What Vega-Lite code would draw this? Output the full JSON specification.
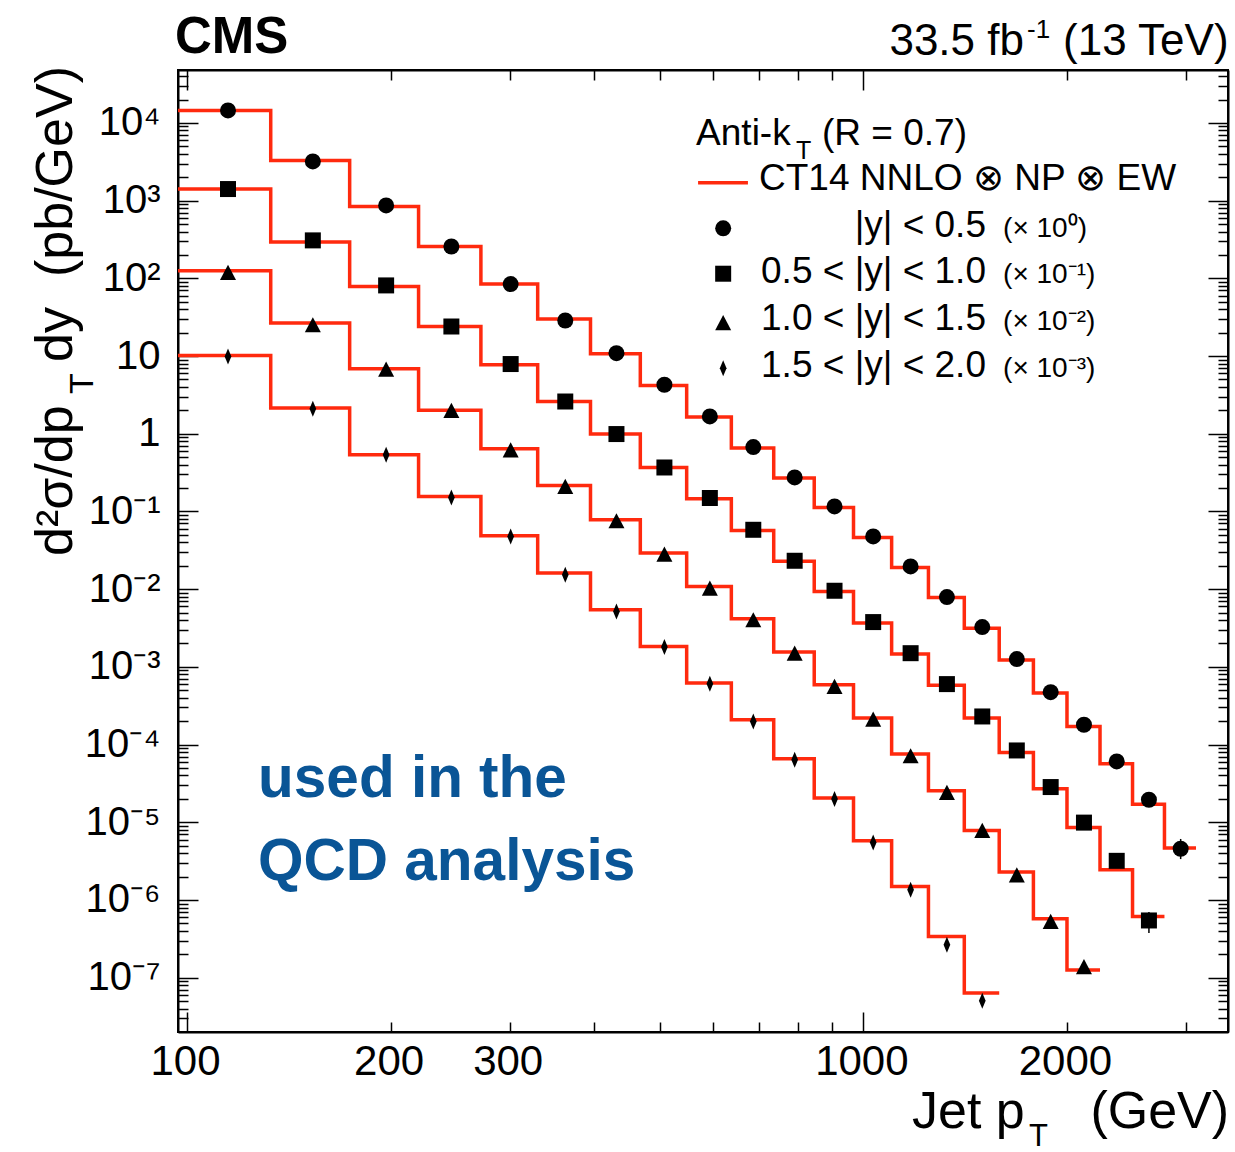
{
 "$schema": "https://vega.github.io/schema/vega-lite/v6.json",
 "width": 1050,
 "height": 962,
 "autosize": {"type": "none"},
 "padding": {"left": 178, "top": 70, "right": 7, "bottom": 120},
 "background": "white",
 "config": {"view": {"stroke": "black", "strokeWidth": 2}},
 "datasets": {
  "theory": [
   {"s":"y0","pt":97,"v":14500},{"s":"y0","pt":133,"v":3290},{"s":"y0","pt":174,"v":842},{"s":"y0","pt":220,"v":257},{"s":"y0","pt":272,"v":84.4},{"s":"y0","pt":330,"v":29.9},{"s":"y0","pt":395,"v":10.7},{"s":"y0","pt":468,"v":4.19},{"s":"y0","pt":548,"v":1.64},{"s":"y0","pt":638,"v":0.655},{"s":"y0","pt":737,"v":0.269},{"s":"y0","pt":846,"v":0.1127},{"s":"y0","pt":967,"v":0.0463},{"s":"y0","pt":1101,"v":0.019},{"s":"y0","pt":1248,"v":0.00782},{"s":"y0","pt":1410,"v":0.00315},{"s":"y0","pt":1588,"v":0.00123},{"s":"y0","pt":1784,"v":0.00046},{"s":"y0","pt":2000,"v":0.000171},{"s":"y0","pt":2238,"v":5.66e-5},{"s":"y0","pt":2500,"v":1.71e-5},{"s":"y0","pt":2787,"v":4.66e-6},{"s":"y0","pt":3103,"v":4.66e-6},
   {"s":"y1","pt":97,"v":1410},{"s":"y1","pt":133,"v":293},{"s":"y1","pt":174,"v":78.7},{"s":"y1","pt":220,"v":24},{"s":"y1","pt":272,"v":7.73},{"s":"y1","pt":330,"v":2.6},{"s":"y1","pt":395,"v":0.991},{"s":"y1","pt":468,"v":0.368},{"s":"y1","pt":548,"v":0.146},{"s":"y1","pt":638,"v":0.057},{"s":"y1","pt":737,"v":0.0228},{"s":"y1","pt":846,"v":0.00935},{"s":"y1","pt":967,"v":0.00366},{"s":"y1","pt":1101,"v":0.00146},{"s":"y1","pt":1248,"v":0.000582},{"s":"y1","pt":1410,"v":0.000219},{"s":"y1","pt":1588,"v":7.9e-5},{"s":"y1","pt":1784,"v":2.7e-5},{"s":"y1","pt":2000,"v":8.57e-6},{"s":"y1","pt":2238,"v":2.45e-6},{"s":"y1","pt":2500,"v":6.14e-7},{"s":"y1","pt":2787,"v":6.14e-7},
   {"s":"y2","pt":97,"v":125},{"s":"y2","pt":133,"v":26.6},{"s":"y2","pt":174,"v":6.87},{"s":"y2","pt":220,"v":2.0},{"s":"y2","pt":272,"v":0.641},{"s":"y2","pt":330,"v":0.216},{"s":"y2","pt":395,"v":0.0782},{"s":"y2","pt":468,"v":0.0291},{"s":"y2","pt":548,"v":0.01083},{"s":"y2","pt":638,"v":0.00416},{"s":"y2","pt":737,"v":0.00155},{"s":"y2","pt":846,"v":0.000588},{"s":"y2","pt":967,"v":0.000219},{"s":"y2","pt":1101,"v":7.55e-5},{"s":"y2","pt":1248,"v":2.54e-5},{"s":"y2","pt":1410,"v":7.85e-6},{"s":"y2","pt":1588,"v":2.29e-6},{"s":"y2","pt":1784,"v":5.73e-7},{"s":"y2","pt":2000,"v":1.26e-7},{"s":"y2","pt":2238,"v":1.26e-7},
   {"s":"y3","pt":97,"v":10.2},{"s":"y3","pt":133,"v":2.14},{"s":"y3","pt":174,"v":0.537},{"s":"y3","pt":220,"v":0.156},{"s":"y3","pt":272,"v":0.0487},{"s":"y3","pt":330,"v":0.0161},{"s":"y3","pt":395,"v":0.00543},{"s":"y3","pt":468,"v":0.00183},{"s":"y3","pt":548,"v":0.000618},{"s":"y3","pt":638,"v":0.000209},{"s":"y3","pt":737,"v":6.57e-5},{"s":"y3","pt":846,"v":2.05e-5},{"s":"y3","pt":967,"v":5.78e-6},{"s":"y3","pt":1101,"v":1.49e-6},{"s":"y3","pt":1248,"v":3.39e-7},{"s":"y3","pt":1410,"v":6.34e-8},{"s":"y3","pt":1588,"v":6.34e-8}
  ],
  "points": [
   {"s":"y0","pt":115,"v":14500},{"s":"y0","pt":153.5,"v":3200},{"s":"y0","pt":197,"v":867},{"s":"y0","pt":246,"v":257},{"s":"y0","pt":301,"v":84.4},{"s":"y0","pt":362.5,"v":28.7},{"s":"y0","pt":431.5,"v":10.9},{"s":"y0","pt":508,"v":4.27},{"s":"y0","pt":593,"v":1.67},{"s":"y0","pt":687.5,"v":0.674},{"s":"y0","pt":791.5,"v":0.274},{"s":"y0","pt":906.5,"v":0.116},{"s":"y0","pt":1034,"v":0.0477},{"s":"y0","pt":1174.5,"v":0.0196},{"s":"y0","pt":1329,"v":0.0079},{"s":"y0","pt":1499,"v":0.00325},{"s":"y0","pt":1686,"v":0.00126},{"s":"y0","pt":1892,"v":0.000473},{"s":"y0","pt":2119,"v":0.00018},{"s":"y0","pt":2369,"v":6.07e-5},{"s":"y0","pt":2643.5,"v":1.95e-5},{"s":"y0","pt":2945,"v":4.56e-6},
   {"s":"y1","pt":115,"v":1410},{"s":"y1","pt":153.5,"v":308},{"s":"y1","pt":197,"v":81.1},{"s":"y1","pt":246,"v":24},{"s":"y1","pt":301,"v":7.89},{"s":"y1","pt":362.5,"v":2.6},{"s":"y1","pt":431.5,"v":0.991},{"s":"y1","pt":508,"v":0.368},{"s":"y1","pt":593,"v":0.149},{"s":"y1","pt":687.5,"v":0.0581},{"s":"y1","pt":791.5,"v":0.0232},{"s":"y1","pt":906.5,"v":0.00954},{"s":"y1","pt":1034,"v":0.00377},{"s":"y1","pt":1174.5,"v":0.0015},{"s":"y1","pt":1329,"v":0.0006},{"s":"y1","pt":1499,"v":0.00023},{"s":"y1","pt":1686,"v":8.4e-5},{"s":"y1","pt":1892,"v":2.84e-5},{"s":"y1","pt":2119,"v":9.9e-6},{"s":"y1","pt":2369,"v":3.19e-6},{"s":"y1","pt":2643.5,"v":5.45e-7},
   {"s":"y2","pt":115,"v":119},{"s":"y2","pt":153.5,"v":25.3},{"s":"y2","pt":197,"v":6.8},{"s":"y2","pt":246,"v":2.0},{"s":"y2","pt":301,"v":0.622},{"s":"y2","pt":362.5,"v":0.21},{"s":"y2","pt":431.5,"v":0.0759},{"s":"y2","pt":508,"v":0.0283},{"s":"y2","pt":593,"v":0.01033},{"s":"y2","pt":687.5,"v":0.00404},{"s":"y2","pt":791.5,"v":0.0015},{"s":"y2","pt":906.5,"v":0.00056},{"s":"y2","pt":1034,"v":0.000213},{"s":"y2","pt":1174.5,"v":7.18e-5},{"s":"y2","pt":1329,"v":2.42e-5},{"s":"y2","pt":1499,"v":7.85e-6},{"s":"y2","pt":1686,"v":2.11e-6},{"s":"y2","pt":1892,"v":5.29e-7},{"s":"y2","pt":2119,"v":1.39e-7},
   {"s":"y3","pt":115,"v":9.88},{"s":"y3","pt":153.5,"v":2.1},{"s":"y3","pt":197,"v":0.537},{"s":"y3","pt":246,"v":0.151},{"s":"y3","pt":301,"v":0.0477},{"s":"y3","pt":362.5,"v":0.0153},{"s":"y3","pt":431.5,"v":0.00517},{"s":"y3","pt":508,"v":0.0018},{"s":"y3","pt":593,"v":0.000606},{"s":"y3","pt":687.5,"v":0.000198},{"s":"y3","pt":791.5,"v":6.37e-5},{"s":"y3","pt":906.5,"v":1.99e-5},{"s":"y3","pt":1034,"v":5.5e-6},{"s":"y3","pt":1174.5,"v":1.35e-6},{"s":"y3","pt":1329,"v":2.65e-7},{"s":"y3","pt":1499,"v":5.04e-8}
  ],
  "errors": [
   {"pt":2945,"lo":3.36e-6,"hi":6.1e-6},
   {"pt":2643.5,"lo":3.75e-7,"hi":6.98e-7}
  ],
  "legendLine": [{"pt":569.7,"pt2":675.1,"v":1701}],
  "legendMarks": [
   {"s":"y0","pt":620.5,"v":440.5},{"s":"y1","pt":620.5,"v":114.7},{"s":"y2","pt":620.5,"v":26.85},{"s":"y3","pt":620.5,"v":6.953}
  ],
  "ann": [
   {"part":"cms","pt":96.0,"v":79430,"text":"CMS"},
   {"part":"lumi","pt":3467,"v":74870,"text":"(13 TeV)"},
   {"part":"lumi","pt":1727.6,"v":74870,"text":"33.5 fb"},
   {"part":"lumisup","pt":1746,"v":123900,"text":"-1"},
   {"part":"leg","pt":565.9,"v":5197,"text":"Anti-k"},
   {"part":"leg","pt":868.8,"v":5197,"text":"(R = 0.7)"},
   {"part":"leg","pt":701.1,"v":1370,"text":"CT14 NNLO ⊗ NP ⊗ EW"},
   {"part":"legsub","pt":795,"v":3434,"text":"T"},
   {"part":"legrange","pt":1518,"v":343.4,"text":"|y| < 0.5"},
   {"part":"legrange","pt":1518,"v":86.3,"text":"0.5 < |y| < 1.0"},
   {"part":"legrange","pt":1518,"v":21.63,"text":"1.0 < |y| < 1.5"},
   {"part":"legrange","pt":1518,"v":5.42,"text":"1.5 < |y| < 2.0"},
   {"part":"legfac","pt":1609,"v":343.4,"text":"(× 10⁰)"},
   {"part":"legfac","pt":1609,"v":86.3,"text":"(× 10⁻¹)"},
   {"part":"legfac","pt":1609,"v":21.63,"text":"(× 10⁻²)"},
   {"part":"legfac","pt":1609,"v":5.42,"text":"(× 10⁻³)"},
   {"part":"qcd","pt":127.4,"v":2.112e-5,"text":"used in the"},
   {"part":"qcd","pt":127.4,"v":1.805e-6,"text":"QCD analysis"},
   {"part":"xt","pt":1180.3,"v":1.161e-9,"text":"Jet p"},
   {"part":"xtsub","pt":1757.9,"v":6.9e-10,"text":"T"},
   {"part":"xtr","pt":3473,"v":1.161e-9,"text":"(GeV)"},
   {"part":"yt","pt":67.63,"v":0.02669,"text":"d²σ/dp"},
   {"part":"yt","pt":67.63,"v":8.38,"text":"dy"},
   {"part":"yt","pt":67.63,"v":104.0,"text":"(pb/GeV)"},
   {"part":"ytsub","pt":72.63,"v":3.246,"text":"T"}
  ]
 },
 "encoding": {
  "x": {"field":"pt","type":"quantitative","scale":{"type":"log","domain":[97,3460],"nice":false},"axis":null},
  "y": {"field":"v","type":"quantitative","scale":{"type":"log","domain":[2e-8,48000],"nice":false},"axis":null}
 },
 "layer": [
  {
   "data": {"name":"theory"},
   "mark": {"type":"line","interpolate":"step-after","color":"#ff2a0e","strokeWidth":3.5},
   "encoding": {
    "x": {"field":"pt","type":"quantitative","scale":{"type":"log","domain":[97,3460],"nice":false},
     "axis":{"orient":"bottom","values":[100,200,300,400,500,600,700,800,900,1000,2000,3000],"title":null,"grid":false,
      "domainColor":"black","domainWidth":2,"tickColor":"black","tickWidth":1.5,
      "tickSize":{"condition":{"test":"datum.value == 100 || datum.value == 1000","value":-20},"value":-10},
      "labelPadding":{"condition":{"test":"datum.value == 100 || datum.value == 1000","value":29},"value":19},
      "labelExpr":"indexof([100,200,300,1000,2000], datum.value) >= 0 ? format(datum.value, 'd') : ''",
      "labelFont":"Liberation Sans","labelFontSize":42,"labelColor":"black","labelFlush":false,"labelOverlap":false,"labelBound":false,"labelAngle":0,"labelOffset":-2}},
    "y": {"field":"v","type":"quantitative","scale":{"type":"log","domain":[2e-8,48000],"nice":false},
     "axis":{"orient":"left","values":[3e-8,4e-8,5e-8,6e-8,7e-8,8e-8,9e-8,1e-7,2e-7,3e-7,4e-7,5e-7,6e-7,7e-7,8e-7,9e-7,1e-6,2e-6,3e-6,4e-6,5e-6,6e-6,7e-6,8e-6,9e-6,1e-5,2e-5,3e-5,4e-5,5e-5,6e-5,7e-5,8e-5,9e-5,1e-4,2e-4,3e-4,4e-4,5e-4,6e-4,7e-4,8e-4,9e-4,0.001,0.002,0.003,0.004,0.005,0.006,0.007,0.008,0.009,0.01,0.02,0.03,0.04,0.05,0.06,0.07,0.08,0.09,0.1,0.2,0.3,0.4,0.5,0.6,0.7,0.8,0.9,1,2,3,4,5,6,7,8,9,10,20,30,40,50,60,70,80,90,100,200,300,400,500,600,700,800,900,1000,2000,3000,4000,5000,6000,7000,8000,9000,10000,20000,30000,40000],
      "title":null,"grid":false,"domainColor":"black","domainWidth":2,"tickColor":"black","tickWidth":1.5,
      "tickSize":{"condition":{"test":"abs(log(datum.value)/LN10 - round(log(datum.value)/LN10)) < 0.01","value":-20},"value":-10},
      "labelPadding":38,
      "labelExpr":"abs(log(datum.value)/LN10 - round(log(datum.value)/LN10)) > 0.01 ? '' : datum.value == 1 ? '1' : (datum.value > 9 && datum.value < 11) ? '10' : '10' + ['⁻⁷','⁻⁶','⁻⁵','⁻⁴','⁻³','⁻²','⁻¹','⁰','¹','²','³','⁴'][round(log(datum.value)/LN10)+7]",
      "labelFont":"Liberation Sans","labelFontSize":40,"labelColor":"black","labelAlign":"right","labelBaseline":"middle","labelOverlap":false,"labelBound":false,"labelFlush":false}},
    "detail": {"field":"s"}
   }
  },
  {
   "data": {"name":"theory"},
   "mark": {"type":"point","opacity":0},
   "encoding": {
    "x": {"field":"pt","type":"quantitative","scale":{"type":"log","domain":[97,3460],"nice":false},
     "axis":{"orient":"top","values":[100,200,300,400,500,600,700,800,900,1000,2000,3000],"title":null,"grid":false,"labels":false,
      "domainColor":"black","domainWidth":2,"tickColor":"black","tickWidth":1.5,
      "tickSize":{"condition":{"test":"datum.value == 100 || datum.value == 1000","value":-20},"value":-10}}},
    "y": {"field":"v","type":"quantitative","scale":{"type":"log","domain":[2e-8,48000],"nice":false},
     "axis":{"orient":"right","values":[3e-8,4e-8,5e-8,6e-8,7e-8,8e-8,9e-8,1e-7,2e-7,3e-7,4e-7,5e-7,6e-7,7e-7,8e-7,9e-7,1e-6,2e-6,3e-6,4e-6,5e-6,6e-6,7e-6,8e-6,9e-6,1e-5,2e-5,3e-5,4e-5,5e-5,6e-5,7e-5,8e-5,9e-5,1e-4,2e-4,3e-4,4e-4,5e-4,6e-4,7e-4,8e-4,9e-4,0.001,0.002,0.003,0.004,0.005,0.006,0.007,0.008,0.009,0.01,0.02,0.03,0.04,0.05,0.06,0.07,0.08,0.09,0.1,0.2,0.3,0.4,0.5,0.6,0.7,0.8,0.9,1,2,3,4,5,6,7,8,9,10,20,30,40,50,60,70,80,90,100,200,300,400,500,600,700,800,900,1000,2000,3000,4000,5000,6000,7000,8000,9000,10000,20000,30000,40000],
      "title":null,"grid":false,"labels":false,"domainColor":"black","domainWidth":2,"tickColor":"black","tickWidth":1.5,
      "tickSize":{"condition":{"test":"abs(log(datum.value)/LN10 - round(log(datum.value)/LN10)) < 0.01","value":-20},"value":-10}}}
   }
  },
  {
   "data": {"name":"errors"},
   "mark": {"type":"rule","color":"black","strokeWidth":1.5},
   "encoding": {
    "y": {"field":"lo","type":"quantitative","scale":{"type":"log","domain":[2e-8,48000],"nice":false},"axis":null},
    "y2": {"field":"hi"}
   }
  },
  {
   "data": {"name":"points"},
   "mark": {"type":"point","filled":true,"color":"black","size":256,"opacity":1,"strokeWidth":0},
   "encoding": {
    "shape": {"field":"s","type":"nominal","scale":{"domain":["y0","y1","y2","y3"],"range":["circle","square","M0,-0.95L1,0.95L-1,0.95Z","M0,-1L0.42,0L0,1L-0.42,0Z"]},"legend":null}
   }
  },
  {
   "data": {"name":"legendLine"},
   "mark": {"type":"rule","color":"#ff2a0e","strokeWidth":3.5},
   "encoding": {"x2": {"field":"pt2"}}
  },
  {
   "data": {"name":"legendMarks"},
   "mark": {"type":"point","filled":true,"color":"black","size":256,"opacity":1,"strokeWidth":0},
   "encoding": {
    "shape": {"field":"s","type":"nominal","scale":{"domain":["y0","y1","y2","y3"],"range":["circle","square","M0,-0.95L1,0.95L-1,0.95Z","M0,-1L0.42,0L0,1L-0.42,0Z"]},"legend":null}
   }
  },
  {"data":{"name":"ann"},"transform":[{"filter":"datum.part == 'cms'"}],
   "mark":{"type":"text","align":"left","baseline":"alphabetic","font":"Liberation Sans","fontWeight":"bold","fontSize":51,"color":"black"},
   "encoding":{"text":{"field":"text"}}},
  {"data":{"name":"ann"},"transform":[{"filter":"datum.part == 'lumi'"}],
   "mark":{"type":"text","align":"right","baseline":"alphabetic","font":"Liberation Sans","fontSize":44,"color":"black"},
   "encoding":{"text":{"field":"text"}}},
  {"data":{"name":"ann"},"transform":[{"filter":"datum.part == 'lumisup'"}],
   "mark":{"type":"text","align":"left","baseline":"alphabetic","font":"Liberation Sans","fontSize":26,"color":"black"},
   "encoding":{"text":{"field":"text"}}},
  {"data":{"name":"ann"},"transform":[{"filter":"datum.part == 'leg'"}],
   "mark":{"type":"text","align":"left","baseline":"alphabetic","font":"Liberation Sans","fontSize":37,"color":"black"},
   "encoding":{"text":{"field":"text"}}},
  {"data":{"name":"ann"},"transform":[{"filter":"datum.part == 'legsub'"}],
   "mark":{"type":"text","align":"left","baseline":"alphabetic","font":"Liberation Sans","fontSize":25,"color":"black"},
   "encoding":{"text":{"field":"text"}}},
  {"data":{"name":"ann"},"transform":[{"filter":"datum.part == 'legrange'"}],
   "mark":{"type":"text","align":"right","baseline":"alphabetic","font":"Liberation Sans","fontSize":37,"color":"black"},
   "encoding":{"text":{"field":"text"}}},
  {"data":{"name":"ann"},"transform":[{"filter":"datum.part == 'legfac'"}],
   "mark":{"type":"text","align":"left","baseline":"alphabetic","font":"Liberation Sans","fontSize":28,"color":"black"},
   "encoding":{"text":{"field":"text"}}},
  {"data":{"name":"ann"},"transform":[{"filter":"datum.part == 'qcd'"}],
   "mark":{"type":"text","align":"left","baseline":"alphabetic","font":"Liberation Sans","fontWeight":"bold","fontSize":58.5,"color":"#0a5596"},
   "encoding":{"text":{"field":"text"}}},
  {"data":{"name":"ann"},"transform":[{"filter":"datum.part == 'xt'"}],
   "mark":{"type":"text","align":"left","baseline":"alphabetic","font":"Liberation Sans","fontSize":52,"color":"black"},
   "encoding":{"text":{"field":"text"}}},
  {"data":{"name":"ann"},"transform":[{"filter":"datum.part == 'xtsub'"}],
   "mark":{"type":"text","align":"left","baseline":"alphabetic","font":"Liberation Sans","fontSize":31,"color":"black"},
   "encoding":{"text":{"field":"text"}}},
  {"data":{"name":"ann"},"transform":[{"filter":"datum.part == 'xtr'"}],
   "mark":{"type":"text","align":"right","baseline":"alphabetic","font":"Liberation Sans","fontSize":52,"color":"black"},
   "encoding":{"text":{"field":"text"}}},
  {"data":{"name":"ann"},"transform":[{"filter":"datum.part == 'yt'"}],
   "mark":{"type":"text","align":"left","baseline":"alphabetic","angle":270,"font":"Liberation Sans","fontSize":52,"color":"black"},
   "encoding":{"text":{"field":"text"}}},
  {"data":{"name":"ann"},"transform":[{"filter":"datum.part == 'ytsub'"}],
   "mark":{"type":"text","align":"left","baseline":"alphabetic","angle":270,"font":"Liberation Sans","fontSize":34,"color":"black"},
   "encoding":{"text":{"field":"text"}}}
 ],
 "resolve": {"axis": {"x": "independent", "y": "independent"}}
}
